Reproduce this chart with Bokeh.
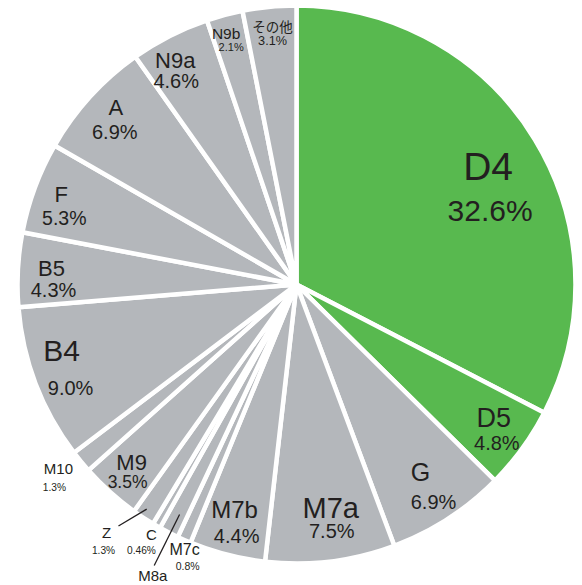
import math
from bokeh.plotting import figure
from bokeh.models import Range1d, ColumnDataSource
from bokeh.embed import file_html
from bokeh.resources import INLINE

# ---- data ----
categories = ["D4", "D5", "G", "M7a", "M7b", "M7c", "M8a", "C", "Z", "M9",
              "M10", "B4", "B5", "F", "A", "N9a", "N9b", "その他"]
shares = [32.6, 4.8, 6.9, 7.5, 4.4, 0.8, 1.14, 0.46, 1.3, 3.5,
          1.3, 9.0, 4.3, 5.3, 6.9, 4.6, 2.1, 3.1]
share_labels = ["32.6%", "4.8%", "6.9%", "7.5%", "4.4%", "0.8%", "", "0.46%", "1.3%", "3.5%",
                "1.3%", "9.0%", "4.3%", "5.3%", "6.9%", "4.6%", "2.1%", "3.1%"]
highlighted = ["D4", "D5"]

# ---- style / layout ----
GREEN = "#58b94f"
GRAY = "#b4b7bb"
TEXT = "#231f20"
W, H = 582, 585
CX, CY, R = 296.0, -284.0, 279.0
LATIN = "Liberation Sans"
CJK = "Noto Sans CJK JP"

# name radius, angle offset (deg), name size, pct dx, pct dy, pct size
layout = {
    "D4":  (225, -0.3, 39, 2, 44, 30),
    "D5":  (238, -2.0, 27, 3, 25, 20),
    "G":   (225, -0.5, 25, 13, 30, 20),
    "M7a": (226, -1.7, 29, 1, 23, 20),
    "M7b": (233, 1.0, 24, 2, 27, 20),
    "M7c": (288, -0.9, 16, 3, 16, 10.5),
    "M8a": (325, -1.0, 15, 0, 0, 10),
    "C":   (289, 0.0, 15, -10, 16, 10.2),
    "Z":   (312, 4.2, 15, -3, 18, 10.2),
    "M9":  (243, 0.8, 22, -4, 19, 17.5),
    "M10": (301, 1.7, 15, -4, 19, 10.2),
    "B4":  (244, 5.2, 30, 9, 38, 20),
    "B5":  (245.5, 0.6, 22, 2, 21, 20),
    "F":   (252, 0.7, 22, 3, 24, 19.5),
    "A":   (253, 2.1, 22, -1, 25, 20),
    "N9a": (255, -1.4, 22, 1, 21, 20),
    "N9b": (261, -0.7, 15.5, 5, 14, 11),
    "その他": (260, 0.3, 13.5, 0, 15, 12.7),
}
# leader lines: r_in, dtheta_in, r_out, dtheta_out
leaders = {"Z": (270, 0.4, 300, 3.1), "M8a": (258, -0.3, 315, -0.4)}

total = sum(shares)
starts, ends, mids = [], [], []
acc = 0.0
for s in shares:
    a = acc / total
    acc += s
    b = acc / total
    starts.append(math.pi / 2 - 2 * math.pi * b)
    ends.append(math.pi / 2 - 2 * math.pi * a)
    mids.append(360.0 * (a + b) / 2)

colors = [GREEN if c in highlighted else GRAY for c in categories]

def polar(r, deg):
    t = math.radians(deg)
    return CX + r * math.sin(t), CY + r * math.cos(t)

p = figure(width=W, height=H, output_backend="svg", toolbar_location=None,
           x_range=Range1d(0, W), y_range=Range1d(-H, 0),
           x_axis_type=None, y_axis_type=None, min_border=0,
           outline_line_color=None)
p.grid.visible = False

wedge_src = ColumnDataSource(dict(start=starts, end=ends, color=colors,
                                  x=[CX] * len(shares), y=[CY] * len(shares)))
p.wedge(x="x", y="y", radius=R, start_angle="start", end_angle="end",
        direction="anticlock", fill_color="color", line_color="white",
        line_width=4.5, source=wedge_src)

nx, ny, nt, ns, nf = [], [], [], [], []
px_, py_, pt, ps, pf = [], [], [], [], []
for cat, lab, mid in zip(categories, share_labels, mids):
    r, dth, nsz, pdx, pdy, psz = layout[cat]
    x, y = polar(r, mid + dth)
    nx.append(x); ny.append(y); nt.append(cat); ns.append(f"{nsz}px")
    nf.append(CJK if cat == "その他" else LATIN)
    if lab:
        px_.append(x + pdx); py_.append(y - pdy); pt.append(lab); ps.append(f"{psz}px")
        pf.append(LATIN)

p.text(x="x", y="y", text="t", text_font_size="s", text_font="f",
       source=ColumnDataSource(dict(x=nx, y=ny, t=nt, s=ns, f=nf)),
       text_align="center", text_baseline="middle", text_color=TEXT)
p.text(x="x", y="y", text="t", text_font_size="s", text_font="f",
       source=ColumnDataSource(dict(x=px_, y=py_, t=pt, s=ps, f=pf)),
       text_align="center", text_baseline="middle", text_color=TEXT)

x0, y0, x1, y1 = [], [], [], []
for cat, (ri, di, ro, do) in leaders.items():
    m = mids[categories.index(cat)]
    a, b = polar(ri, m + di)
    c, d = polar(ro, m + do)
    x0.append(a); y0.append(b); x1.append(c); y1.append(d)
p.segment(x0=x0, y0=y0, x1=x1, y1=y1, line_color=TEXT, line_width=1.3)

open("out.html", "w").write(file_html(p, INLINE))
